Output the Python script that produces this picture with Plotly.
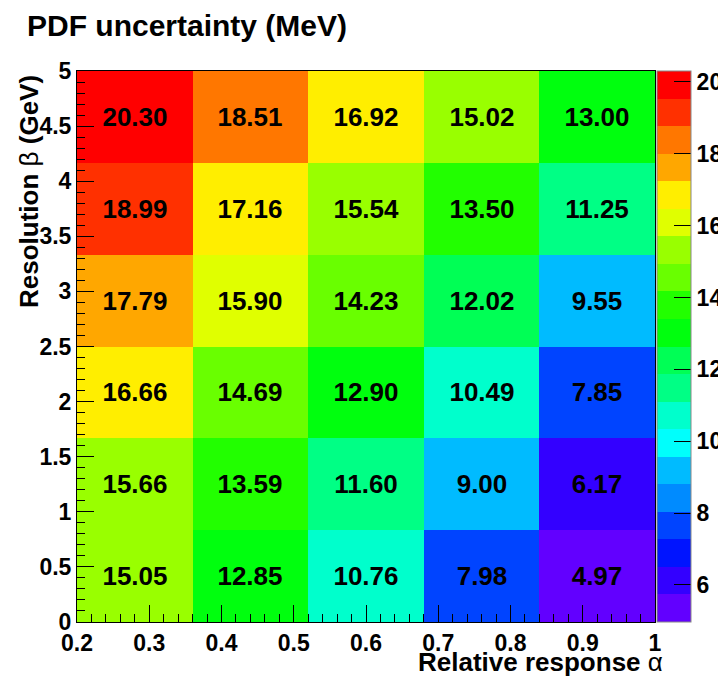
import plotly.graph_objects as go

# ---- data ----
alpha_edges = [0.2, 0.36, 0.52, 0.68, 0.84, 1.0]
beta_edges = [0.0, 5/6, 10/6, 15/6, 20/6, 25/6, 5.0]
# rows: beta bins bottom -> top ; columns: alpha bins left -> right
pdf_unc = [
    [15.05, 12.85, 10.76, 7.98, 4.97],
    [15.66, 13.59, 11.60, 9.00, 6.17],
    [16.66, 14.69, 12.90, 10.49, 7.85],
    [17.79, 15.90, 14.23, 12.02, 9.55],
    [18.99, 17.16, 15.54, 13.50, 11.25],
    [20.30, 18.51, 16.92, 15.02, 13.00],
]
z_min = 4.97
z_max = 20.30
cbar_ticks = [6, 8, 10, 12, 14, 16, 18, 20]

# ROOT "pretty" palette, 20 contour bands
band_colors = [
    "#6200ff", "#3300ff", "#0014ff", "#0044ff", "#008bff",
    "#00bbff", "#00fffc", "#00ffcc", "#00ff85", "#00ff55",
    "#00ff0e", "#22ff00", "#69ff00", "#99ff00", "#e0ff00",
    "#ffee00", "#ffa700", "#ff7700", "#ff3000", "#ff0000",
]
n = len(band_colors)
colorscale = []
for k, c in enumerate(band_colors):
    colorscale.append([k / n, c])
    colorscale.append([(k + 1) / n, c])

FONT = "Liberation Sans, Arial, Helvetica, sans-serif"

# page body has an 8px default margin -> figure is 8px smaller, margins shifted
OFF = 8
PL, PT, PR, PB = 77, 71, 655, 622   # plot-area pixel box in the page
W, H = 726 - OFF, 677 - OFF
PW, PH = PR - PL, PB - PT

fig = go.Figure(
    go.Heatmap(
        x=alpha_edges,
        y=beta_edges,
        z=pdf_unc,
        zmin=z_min,
        zmax=z_max,
        colorscale=colorscale,
        texttemplate="%{z:.2f}",
        textfont=dict(family=FONT, size=26, color="black", weight="bold"),
        hoverinfo="skip",
        colorbar=dict(
            x=(657 - PL) / PW,
            xanchor="left",
            xpad=0,
            ypad=0,
            y=0.5,
            yanchor="middle",
            len=1.0,
            lenmode="fraction",
            thickness=34,
            thicknessmode="pixels",
            outlinewidth=1,
            outlinecolor="#888888",
            tickvals=cbar_ticks,
            ticks="inside",
            ticklen=17,
            tickwidth=1,
            tickcolor="black",
            tickfont=dict(family=FONT, size=23, color="black", weight="bold"),
        ),
    )
)

fig.update_layout(
    width=W,
    height=H,
    margin=dict(l=PL - OFF, r=W - (PR - OFF), t=PT - OFF, b=H - (PB - OFF), autoexpand=False),
    paper_bgcolor="white",
    plot_bgcolor="white",
    font=dict(family=FONT, color="black"),
    xaxis=dict(
        range=[0.2, 1.0],
        tick0=0.2,
        dtick=0.1,
        ticks="inside",
        ticklen=17,
        tickwidth=1,
        tickcolor="black",
        minor=dict(dtick=0.02, ticks="inside", ticklen=8, tickcolor="black", showgrid=False),
        showgrid=False,
        zeroline=False,
        showline=True,
        linecolor="black",
        linewidth=1,
        mirror=True,
        automargin=False,
        tickfont=dict(family=FONT, size=23, color="black", weight="bold"),
    ),
    yaxis=dict(
        range=[0, 5],
        tick0=0,
        dtick=0.5,
        ticks="inside",
        ticklen=17,
        tickwidth=1,
        tickcolor="black",
        minor=dict(dtick=0.1, ticks="inside", ticklen=8, tickcolor="black", showgrid=False),
        showgrid=False,
        zeroline=False,
        showline=True,
        linecolor="black",
        linewidth=1,
        mirror=True,
        automargin=False,
        tickfont=dict(family=FONT, size=23, color="black", weight="bold"),
    ),
    annotations=[
        dict(
            text="<b>PDF uncertainty (MeV)</b>",
            xref="paper", yref="paper",
            x=(25 - PL) / PW, y=1 + (PT - 25) / PH,
            xanchor="left", yanchor="middle",
            showarrow=False,
            font=dict(family=FONT, size=30, color="black"),
        ),
        dict(
            text="<b>Relative response</b> α",
            xref="paper", yref="paper",
            x=(665 - PL) / PW, y=-(662 - PB) / PH,
            xanchor="right", yanchor="middle",
            showarrow=False,
            font=dict(family=FONT, size=26, color="black"),
        ),
        dict(
            text="<b>Resolution</b> β <b>(GeV)</b>",
            xref="paper", yref="paper",
            x=(29 - PL) / PW, y=1 - (192 - PT) / PH,
            xanchor="center", yanchor="middle",
            textangle=-90,
            showarrow=False,
            font=dict(family=FONT, size=26, color="black"),
        ),
    ],
)

fig.write_html("out.html")
